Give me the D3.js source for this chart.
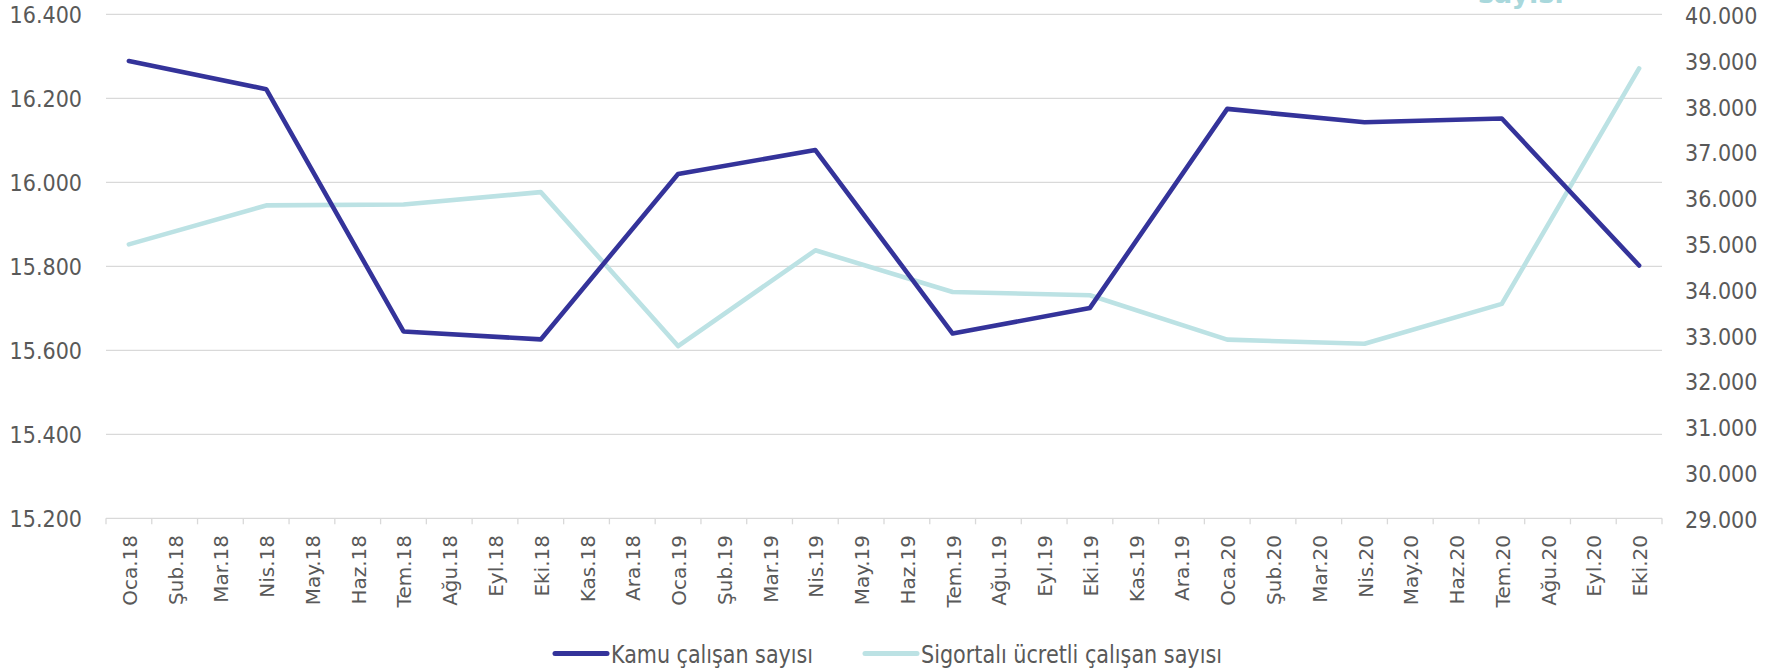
<!DOCTYPE html>
<html>
<head>
<meta charset="utf-8">
<script src="https://cdn.jsdelivr.net/npm/d3@7"></script>
<style>
  body { margin: 0; background: #fff; }
  svg { display: block; }
</style>
</head>
<body>
<div id="chart"></div>
<script>
// Months on the x axis (values only exist for quarter months)
const months = [
  "Oca.18", "Şub.18", "Mar.18", "Nis.18", "May.18", "Haz.18", "Tem.18", "Ağu.18", "Eyl.18", "Eki.18", "Kas.18", "Ara.18",
  "Oca.19", "Şub.19", "Mar.19", "Nis.19", "May.19", "Haz.19", "Tem.19", "Ağu.19", "Eyl.19", "Eki.19", "Kas.19", "Ara.19",
  "Oca.20", "Şub.20", "Mar.20", "Nis.20", "May.20", "Haz.20", "Tem.20", "Ağu.20", "Eyl.20", "Eki.20"
];

// Kamu çalışan sayısı (left axis)
const kamu = [
  16289, null, null, 16222, null, null, 15645, null, null, 15626, null, null,
  16020, null, null, 16077, null, null, 15640, null, null, 15701, null, null,
  16175, null, null, 16143, null, null, 16152, null, null, 15802
];

// Sigortalı ücretli çalışan sayısı (right axis)
const sigortali = [
  34980, null, null, 35830, null, null, 35850, null, null, 36120, null, null,
  32760, null, null, 34850, null, null, 33940, null, null, 33870, null, null,
  32900, null, null, 32810, null, null, 33680, null, null, 38820
];

const leftTicks = [15200, 15400, 15600, 15800, 16000, 16200, 16400];
const rightTicks = [29000, 30000, 31000, 32000, 33000, 34000, 35000, 36000, 37000, 38000, 39000, 40000];

const seriesNames = ["Kamu çalışan sayısı", "Sigortalı ücretli çalışan sayısı"];
const colors = ["#34339a", "#bce2e4"];

const width = 1769;
const height = 669;
const plotLeft = 106, plotRight = 1662, plotTop = 14.4, plotBottom = 518.3;

const trFormat = d3.formatLocale({ decimal: ",", thousands: ".", grouping: [3], currency: ["", ""] }).format(",d");

const svg = d3.select("#chart")
  .append("svg")
  .attr("width", width)
  .attr("height", height);

const x = d3.scaleBand().domain(months).range([plotLeft, plotRight]);
const yLeft = d3.scaleLinear().domain([15200, 16400]).range([plotBottom, plotTop]);
const yRight = d3.scaleLinear().domain([29000, 40000]).range([plotBottom, plotTop]);

const tickFont = "'DejaVu Sans Condensed', 'DejaVu Sans', sans-serif";

// gridlines
svg.append("g")
  .selectAll("line")
  .data(leftTicks)
  .enter()
  .append("line")
  .attr("x1", plotLeft)
  .attr("x2", plotRight)
  .attr("y1", (d) => yLeft(d))
  .attr("y2", (d) => yLeft(d))
  .attr("stroke", "#d9d9d9")
  .attr("stroke-width", 1.3);

// x axis ticks at band edges
const edges = months.map((m) => x(m)).concat([plotRight]);
svg.append("g")
  .selectAll("line")
  .data(edges)
  .enter()
  .append("line")
  .attr("x1", (d) => d)
  .attr("x2", (d) => d)
  .attr("y1", plotBottom)
  .attr("y2", plotBottom + 6)
  .attr("stroke", "#d9d9d9")
  .attr("stroke-width", 1.3);

// left axis labels
svg.append("g")
  .selectAll("text")
  .data(leftTicks)
  .enter()
  .append("text")
  .attr("x", 82)
  .attr("y", (d) => yLeft(d) + 1)
  .attr("dy", "0.35em")
  .attr("text-anchor", "end")
  .style("font-family", tickFont)
  .style("font-size", "23px")
  .attr("fill", "#595959")
  .text((d) => trFormat(d));

// right axis labels
svg.append("g")
  .selectAll("text")
  .data(rightTicks)
  .enter()
  .append("text")
  .attr("x", 1685)
  .attr("y", (d) => yRight(d) + 1.5)
  .attr("dy", "0.35em")
  .attr("text-anchor", "start")
  .style("font-family", tickFont)
  .style("font-size", "23px")
  .attr("fill", "#595959")
  .text((d) => trFormat(d));

// x axis labels, rotated
svg.append("g")
  .selectAll("text")
  .data(months)
  .enter()
  .append("text")
  .attr("transform", (d) => `translate(${x(d) + x.bandwidth() / 2 + 1},535) rotate(-90)`)
  .attr("dy", "0.35em")
  .attr("text-anchor", "end")
  .style("font-family", "'DejaVu Sans', sans-serif")
  .style("font-size", "20px")
  .attr("fill", "#595959")
  .text((d) => d);

// lines (gaps between quarters are bridged)
const drawSeries = (values, yScale, color) => {
  const pts = months
    .map((m, i) => ({ m: m, v: values[i] }))
    .filter((d) => d.v !== null);
  const line = d3.line()
    .x((d) => x(d.m) + x.bandwidth() / 2)
    .y((d) => yScale(d.v));
  svg.append("path")
    .datum(pts)
    .attr("d", line)
    .attr("fill", "none")
    .attr("stroke", color)
    .attr("stroke-width", 4.6)
    .attr("stroke-linejoin", "round")
    .attr("stroke-linecap", "round");
};

drawSeries(sigortali, yRight, colors[1]);
drawSeries(kamu, yLeft, colors[0]);

// partially cut title at top right
svg.append("text")
  .attr("x", 1478)
  .attr("y", 3)
  .style("font-family", "'DejaVu Sans', sans-serif")
  .style("font-weight", "bold")
  .style("font-size", "27px")
  .attr("fill", "#a9d8dc")
  .text("sayısı");

// legend
const legendItems = [
  { label: seriesNames[0], color: colors[0], x1: 555, x2: 607, tx: 611, tw: 202 },
  { label: seriesNames[1], color: colors[1], x1: 865, x2: 917, tx: 921, tw: 301 }
];

const legend = svg.append("g");

legend.selectAll("line")
  .data(legendItems)
  .enter()
  .append("line")
  .attr("x1", (d) => d.x1)
  .attr("x2", (d) => d.x2)
  .attr("y1", 653.5)
  .attr("y2", 653.5)
  .attr("stroke", (d) => d.color)
  .attr("stroke-width", 5)
  .attr("stroke-linecap", "round");

legend.selectAll("text")
  .data(legendItems)
  .enter()
  .append("text")
  .attr("x", (d) => d.tx)
  .attr("y", 662.5)
  .attr("textLength", (d) => d.tw)
  .attr("lengthAdjust", "spacingAndGlyphs")
  .style("font-family", tickFont)
  .style("font-size", "24px")
  .attr("fill", "#595959")
  .text((d) => d.label);
</script>
</body>
</html>
